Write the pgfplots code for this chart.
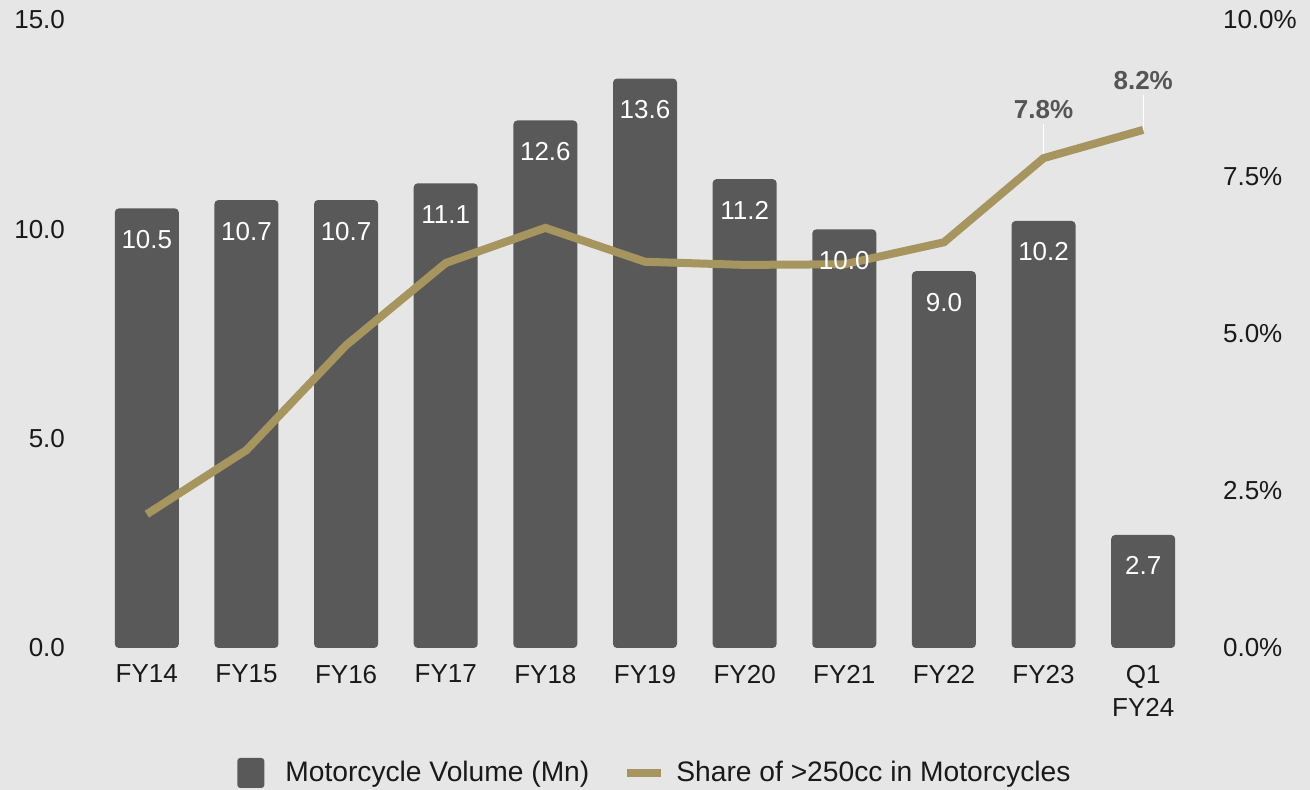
\documentclass[border=0pt]{standalone}
\usepackage{pgfplots}
\pgfplotsset{compat=1.18}
\usepackage{fontspec}
\setmainfont{Liberation Sans}
\definecolor{bgc}{RGB}{230,230,230}
\definecolor{barc}{RGB}{89,89,89}
\definecolor{linec}{RGB}{166,149,94}
\definecolor{labc}{RGB}{85,85,85}
\definecolor{tickc}{RGB}{25,25,25}
\newcommand{\fs}{\fontsize{13pt}{16.5pt}\selectfont}
\newcommand{\fl}{\fontsize{14.1pt}{16.5pt}\selectfont}
\pgfplotsset{base/.style={
  at={(48.5pt,71pt)}, anchor=south west,
  scale only axis, width=548pt, height=314pt,
  xmin=-0.5, xmax=10.5,
  axis line style={draw=none}, major tick length=0pt,
  tick style={draw=none},
  ticklabel style={font=\fs, text=tickc},
  /pgf/number format/assume math mode=true,
}}
\begin{document}
\begin{tikzpicture}
\path[use as bounding box, fill=bgc] (0,0) rectangle (655pt,395pt);
% bars
\begin{axis}[base, ybar, bar width=32pt,
  ymin=0, ymax=15, ytick={0,5,10,15},
  yticklabel style={xshift=-12.5pt, /pgf/number format/fixed, /pgf/number format/fixed zerofill, /pgf/number format/precision=1},
  xtick={0,...,10},
  xticklabels={FY14,FY15,FY16,FY17,FY18,FY19,FY20,FY21,FY22,FY23,{Q1\\FY24}},
  xticklabel style={align=center, anchor=north, yshift=-5pt},
]
\addplot[fill=barc, draw=none, rounded corners=2pt] coordinates {
(0,10.5) (1,10.7) (2,10.7) (3,11.1) (4,12.6) (5,13.6) (6,11.2) (7,10.0) (8,9.0) (9,10.2) (10,2.7)};
\end{axis}
% line
\begin{axis}[base,
  ymin=0, ymax=10, ytick={0,2.5,5,7.5,10},
  axis y line*=right, axis x line=none,
  yticklabel={\pgfmathprintnumber[fixed,fixed zerofill,precision=1]{\tick}\%},
  yticklabel style={xshift=11.5pt},
  legend style={at={(0.51,-0.199)}, anchor=center, draw=none, fill=none,
    legend columns=2, font=\fl, text=tickc,
    /tikz/every even column/.append style={column sep=15pt}},
  legend cell align=left,
]
\addlegendimage{legend image code/.code={\fill[barc, draw=none, rounded corners=1.5pt] (0pt,-7.5pt) rectangle (13.5pt,7.5pt); \path[draw=none, fill=none] (0pt,0pt) -- (22pt,0pt);}}
\addlegendentry{Motorcycle Volume (Mn)}
\addplot[draw=none, forget plot, error bars/.cd, y dir=plus, y explicit,
  error bar style={white, line width=0.6pt}, error mark=none]
  coordinates {(9,7.8) +- (0,0.55) (10,8.2) +- (0,0.6)};
\addplot[linec, line width=4pt, mark=none,
  legend image code/.code={\draw[linec, line width=4pt] (0pt,0pt) -- (17pt,0pt); \path[draw=none, fill=none] (0pt,0pt) -- (22.5pt,0pt);}]
  coordinates {(0,2.13) (1,3.15) (2,4.82) (3,6.13) (4,6.69) (5,6.15) (6,6.10) (7,6.11) (8,6.46) (9,7.8) (10,8.25)};
\addlegendentry{Share of >250cc in Motorcycles}
\addplot[draw=none, mark=none, forget plot, point meta=explicit symbolic,
  nodes near coords,
  nodes near coords style={anchor=base, yshift=20pt, font=\fs\bfseries, text=labc}]
  coordinates {(9,7.8)[7.8\%] (10,8.25)[8.2\%]};
\end{axis}
% bar labels
\begin{axis}[base, hide axis, ymin=0, ymax=15]
\addplot[draw=none, mark=none, point meta=explicit symbolic,
  nodes near coords, nodes near coords style={anchor=base, yshift=-20pt, font=\fs, text=white}]
  coordinates {(0,10.5)[10.5] (1,10.7)[10.7] (2,10.7)[10.7] (3,11.1)[11.1] (4,12.6)[12.6] (5,13.6)[13.6] (6,11.2)[11.2] (7,10.0)[10.0] (8,9.0)[9.0] (9,10.2)[10.2] (10,2.7)[2.7]};
\end{axis}
\end{tikzpicture}
\end{document}
